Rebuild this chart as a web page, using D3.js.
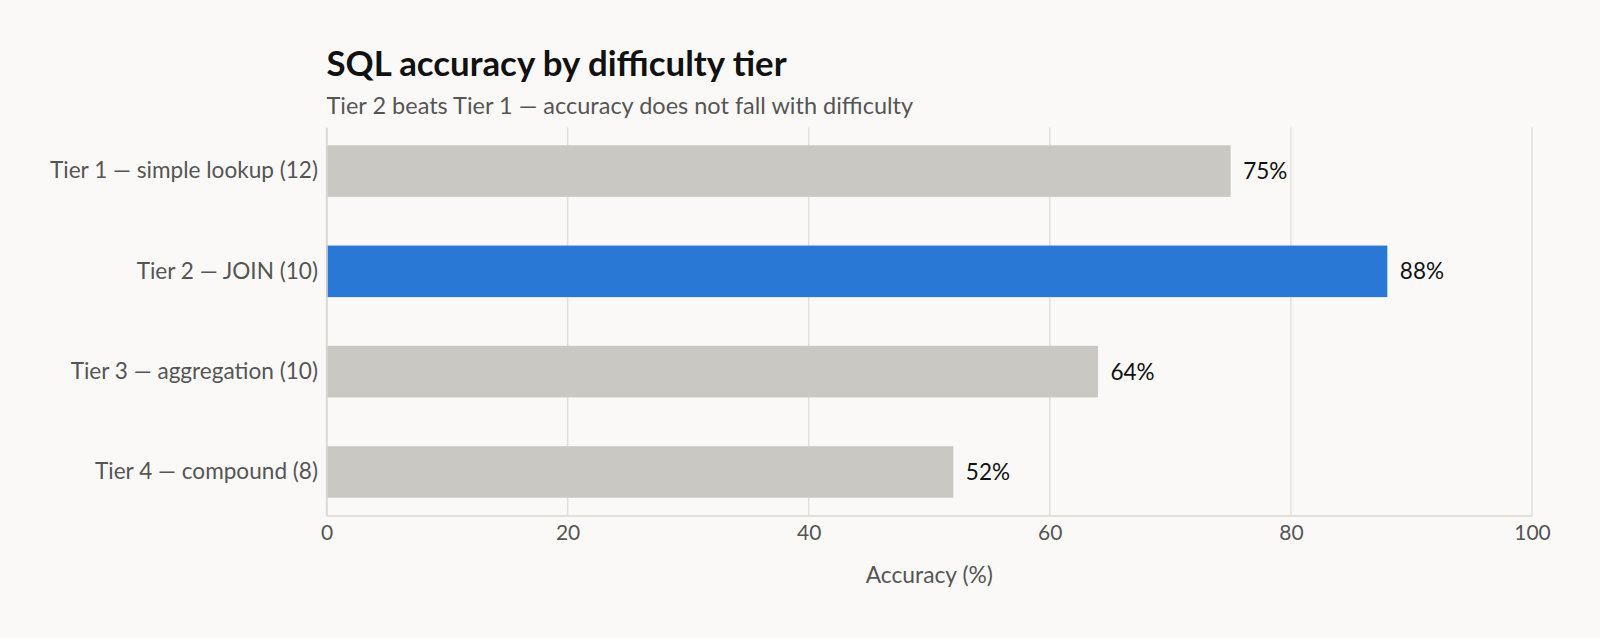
<!DOCTYPE html>
<html>
<head>
<meta charset="utf-8">
<script src="https://cdn.jsdelivr.net/npm/d3@7"></script>
<style>
  body { margin: 0; background: #faf9f7; }
  svg { display: block; font-family: "Source Sans Pro", Lato, "Noto Sans", sans-serif; }
</style>
</head>
<body>
<div id="chart"></div>
<script>
// data
var tiers = ['Tier 1 — simple lookup (12)', 'Tier 2 — JOIN (10)', 'Tier 3 — aggregation (10)', 'Tier 4 — compound (8)']
var accuracy = [75, 88, 64, 52]
var highlight = ['Tier 2 — JOIN (10)']
var xTicks = [0, 20, 40, 60, 80, 100]

var width = 1600, height = 638
var margin = {top: 127.5, right: 68, bottom: 122.5, left: 326.5}

var svg = d3.select('#chart').append('svg')
  .attr('width', width)
  .attr('height', height)

svg.append('rect').attr('width', width).attr('height', height).attr('fill', '#faf9f7')

var x = d3.scaleLinear().domain([0, 100]).range([margin.left, width - margin.right])
var y = d3.scaleBand().domain(tiers)
  .range([margin.top, height - margin.bottom])
  .paddingInner(0.486)
  .paddingOuter(0.177)

// gridlines
svg.append('g')
  .selectAll('line')
  .data(xTicks)
  .enter()
  .append('line')
  .attr('x1', function (d) { return x(d) })
  .attr('x2', function (d) { return x(d) })
  .attr('y1', margin.top)
  .attr('y2', height - margin.bottom)
  .attr('stroke', '#e2e0dc')
  .attr('stroke-width', 1.5)

// bars
svg.append('g')
  .selectAll('rect')
  .data(tiers)
  .enter()
  .append('rect')
  .attr('x', x(0))
  .attr('y', function (d) { return y(d) })
  .attr('width', function (d, i) { return x(accuracy[i]) - x(0) })
  .attr('height', y.bandwidth())
  .attr('fill', function (d) { return highlight.indexOf(d) >= 0 ? '#2a78d6' : '#c9c8c3' })

// value labels
svg.append('g')
  .selectAll('text')
  .data(tiers)
  .enter()
  .append('text')
  .attr('x', function (d, i) { return x(accuracy[i]) + 12.5 })
  .attr('y', function (d) { return y(d) + y.bandwidth() / 2 })
  .attr('dy', '0.35em')
  .attr('font-size', 22.5)
  .attr('fill', '#111')
  .text(function (d, i) { return accuracy[i] + '%' })

// x axis (d3 puts font-family="sans-serif" on the group, drop it)
var xAxis = svg.append('g')
  .attr('transform', 'translate(0,' + (height - margin.bottom) + ')')
  .call(d3.axisBottom(x).tickValues(xTicks).tickSize(0).tickPadding(10))
  .attr('font-family', null)
  .attr('font-size', null)
xAxis.select('.domain').attr('stroke', '#d9d7d2').attr('stroke-width', 1.5)
xAxis.selectAll('text').attr('font-size', 21).attr('fill', '#555')

// y axis
var yAxis = svg.append('g')
  .attr('transform', 'translate(' + margin.left + ',0)')
  .call(d3.axisLeft(y).tickSize(0).tickPadding(8.5))
  .attr('font-family', null)
  .attr('font-size', null)
yAxis.select('.domain').attr('stroke', '#d9d7d2').attr('stroke-width', 1.5)
yAxis.selectAll('text').attr('font-size', 22.6).attr('fill', '#555')

// axis title
svg.append('text')
  .attr('x', (x(0) + x(100)) / 2)
  .attr('y', 582.5)
  .attr('text-anchor', 'middle')
  .attr('font-size', 22.8)
  .attr('fill', '#555')
  .text('Accuracy (%)')

// title + subtitle
svg.append('text')
  .attr('x', margin.left)
  .attr('y', 76)
  .attr('font-size', 34.8)
  .attr('font-weight', 700)
  .attr('fill', '#111')
  .text('SQL accuracy by difficulty tier')

svg.append('text')
  .attr('x', margin.left)
  .attr('y', 114)
  .attr('font-size', 23.5)
  .attr('fill', '#555')
  .text('Tier 2 beats Tier 1 — accuracy does not fall with difficulty')
</script>
</body>
</html>
